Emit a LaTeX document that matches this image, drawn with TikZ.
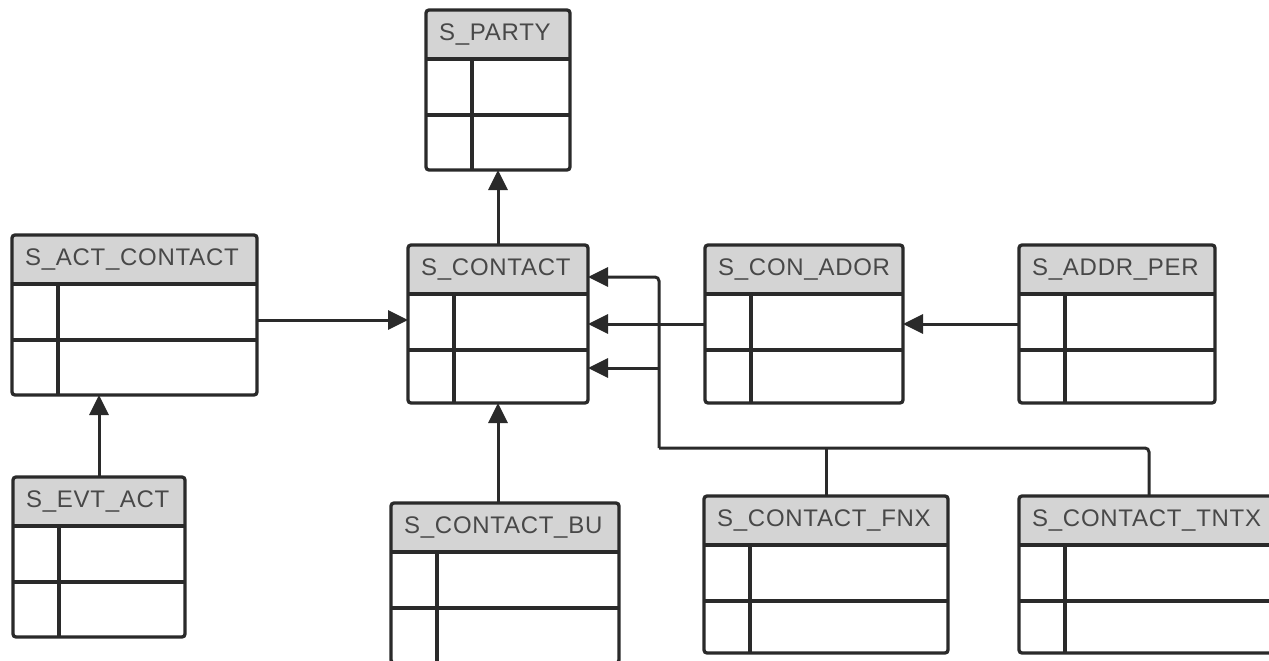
\documentclass[tikz,border=0pt]{standalone}
\usepackage{fontspec}
\setmainfont{Liberation Sans}
\newfontfamily\titlefont[LetterSpace=3]{Liberation Sans}
\usetikzlibrary{arrows.meta,calc}

\definecolor{linec}{HTML}{2A2A2A}
\definecolor{headgray}{HTML}{D4D4D4}
\definecolor{titlec}{HTML}{484848}

\tikzset{
  entity/.style={draw=linec, line width=3.3pt, fill=white, rounded corners=3pt,
    inner sep=0pt, outer sep=0pt,
    path picture={\fill[headgray] (path picture bounding box.north west)
      rectangle ([yshift=-49pt]path picture bounding box.north east);}},
  entitytitle/.style={inner sep=0pt, text=titlec, font=\titlefont\fontsize{24}{28}\selectfont},
  grid/.style={draw=linec, line width=3.1pt},
  link/.style={draw=linec, line width=3pt},
  arr/.style={-{Triangle[length=20pt,width=19pt]}},
}

% table box: name, left, top, width, height, title
\newcommand\entitytable[6]{%
  \node[entity, minimum width=#4pt, minimum height=#5pt, anchor=north west] (#1) at (#2,#3) {};
  \draw[grid] ([yshift=-49pt]#1.north west) -- ([yshift=-49pt]#1.north east);
  \draw[grid] ([yshift=-105pt]#1.north west) -- ([yshift=-105pt]#1.north east);
  \draw[grid] ([xshift=46pt,yshift=-49pt]#1.north west) -- ([xshift=46pt]#1.south west);
  \node[entitytitle, anchor=west] (#1-title) at ([xshift=13pt,yshift=-25pt]#1.north west) {#6};
}

\begin{document}
\begin{tikzpicture}[x=1pt,y=-1pt]
\useasboundingbox (0,0) rectangle (1269,661);

\entitytable{party}{426}{10}{144}{160}{S\_PARTY}
\entitytable{act}{12}{235}{245}{160}{S\_ACT\_CONTACT}
\entitytable{contact}{408}{245}{180}{158}{S\_CONTACT}
\entitytable{conador}{705}{245}{198}{158}{S\_CON\_ADOR}
\entitytable{addr}{1019}{245}{196}{158}{S\_ADDR\_PER}
\entitytable{evt}{13}{477}{172}{160}{S\_EVT\_ACT}
\entitytable{bu}{391}{503}{228}{160}{S\_CONTACT\_BU}
\entitytable{fnx}{704}{496}{244}{157}{S\_CONTACT\_FNX}
\entitytable{tntx}{1019}{496}{260}{157}{S\_CONTACT\_TNTX}

% direct links
\draw[link,arr] (contact.north) -- (party.south);
\draw[link,arr] (evt.north) -- (evt.north |- act.south);
\draw[link,arr] (bu.north -| contact.south) -- (contact.south);
\draw[link,arr] ([yshift=-5pt]act.east) -- ([yshift=-5pt]act.east -| contact.west);
\draw[link,arr] (conador.west) -- (contact.east);
\draw[link,arr] (addr.west) -- (conador.east);

% shared bus from the lower tables
\coordinate (bus) at (659,448);
\coordinate (cin-top) at ([yshift=47pt]contact.east);
\coordinate (cin-bot) at ([yshift=-44pt]contact.east);
\draw[link,rounded corners=4pt] (tntx.north) |- (bus);
\draw[link] (fnx.north) -- (fnx.north |- bus);
\draw[link,arr,rounded corners=4pt] (bus) |- (cin-top);
\draw[link,arr] (bus |- cin-bot) -- (cin-bot);
\end{tikzpicture}
\end{document}
